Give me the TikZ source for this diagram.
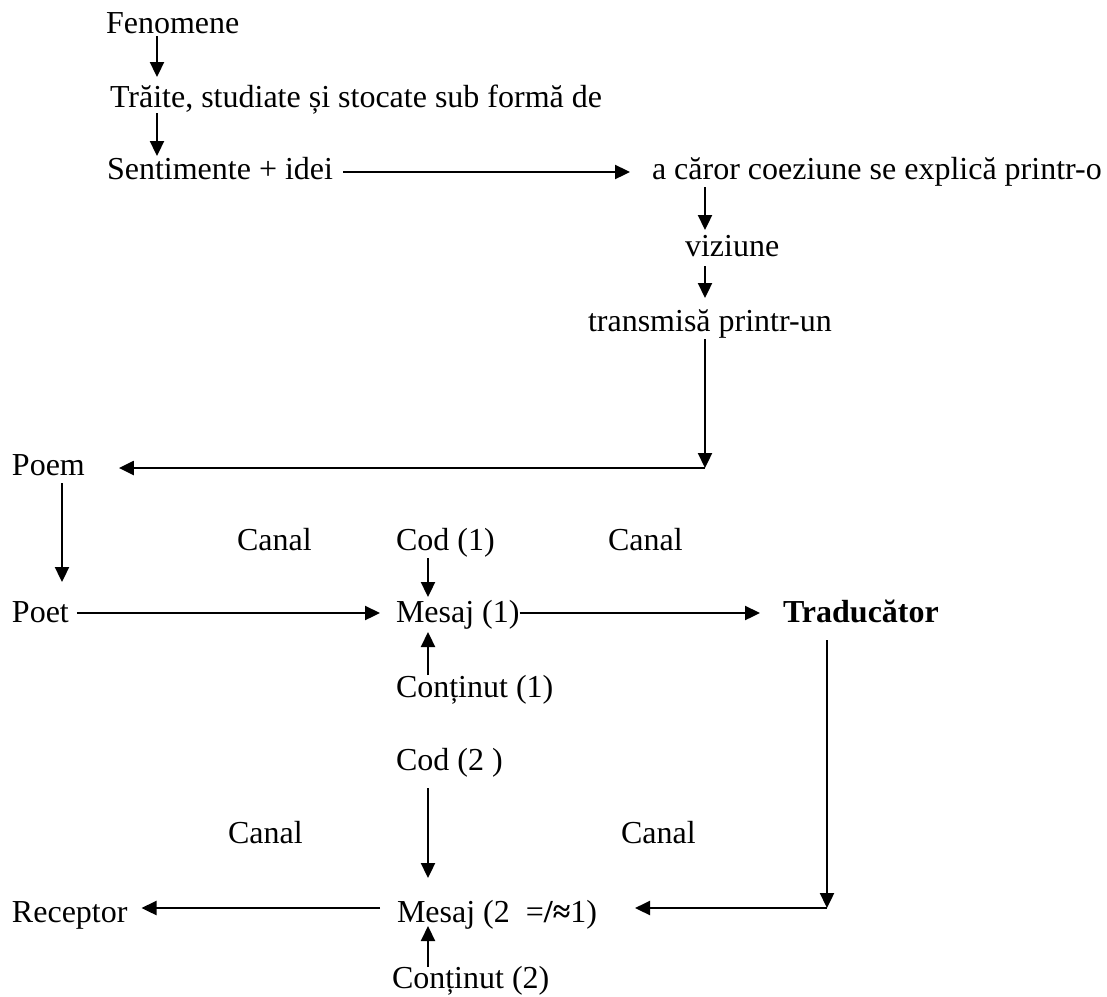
\documentclass[tikz,border=0pt]{standalone}
\usepackage{fontspec}
\setmainfont{Liberation Serif}
\usetikzlibrary{arrows.meta}
\tikzset{
  lbl/.style={anchor=base west, inner sep=0pt, outer sep=0pt, font=\fontsize{32}{38}\selectfont},
  arr/.style={line width=2.3pt, -{Triangle[length=15pt,width=14pt]}}
}
\begin{document}
\begin{tikzpicture}[x=1pt,y=-1pt]
\useasboundingbox (0,0) rectangle (1107,996);
% text nodes
\node[lbl] (fen) at (106,33) {Fenomene};
\node[lbl] (trai) at (110,107) {Trăite, studiate și stocate sub formă de};
\node[lbl] (sent) at (107,179) {Sentimente + idei};
\node[lbl] (acaror) at (652,179) {a căror coeziune se explică printr-o};
\node[lbl] (viz) at (685,256) {viziune};
\node[lbl] (trans) at (588,331) {transmisă printr-un};
\node[lbl] (poem) at (12,475) {Poem};
\node[lbl] (canal1) at (237,550) {Canal};
\node[lbl] (cod1) at (396,550) {Cod (1)};
\node[lbl] (canal2) at (608,550) {Canal};
\node[lbl] (poet) at (12,622) {Poet};
\node[lbl] (mesaj1) at (396,622) {Mesaj (1)};
\node[lbl,font=\fontsize{32}{38}\selectfont\bfseries] (trad) at (783,622) {Traducător};
\node[lbl] (cont1) at (396,697) {Conținut (1)};
\node[lbl] (cod2) at (396,770) {Cod (2 )};
\node[lbl] (canal3) at (228,843) {Canal};
\node[lbl] (canal4) at (621,843) {Canal};
\node[lbl] (recep) at (12,922) {Receptor};
\node[lbl] (mesaj2) at (397,922) {Mesaj (2\ \ =\textbf{/≈}1)};
\node[lbl] (cont2) at (392,988) {Conținut (2)};
% helper columns and corners
\coordinate (xa) at (157,0);
\coordinate (xb) at (705,0);
\coordinate (xp) at (62,0);
\coordinate (xm) at (428,0);
\coordinate (xt) at (827,0);
\coordinate (c1) at (705,468);
\coordinate (c2) at (827,908);
% connectors
\draw[arr] ([yshift=-3pt]fen.base -| xa) -- ([yshift=30pt]trai.base -| xa);
\draw[arr] ([yshift=-6pt]trai.base -| xa) -- ([yshift=23pt]sent.base -| xa);
\draw[arr] ([xshift=10pt,yshift=7pt]sent.base east) -- ([xshift=-22pt,yshift=7pt]acaror.base west);
\draw[arr] ([yshift=-8pt]acaror.base -| xb) -- ([yshift=26pt]viz.base -| xb);
\draw[arr] ([yshift=-10pt]viz.base -| xb) -- ([yshift=33pt]trans.base -| xb);
\draw[arr] ([yshift=-8pt]trans.base -| xb) -- (c1);
\draw[arr] (c1) -- ([xshift=34pt]poem.base east |- c1);
\draw[arr] ([yshift=-8pt]poem.base -| xp) -- ([yshift=40pt]poet.base -| xp);
\draw[arr] ([xshift=8pt,yshift=9pt]poet.base east) -- ([xshift=-16pt,yshift=9pt]mesaj1.base west);
\draw[arr] ([yshift=-8pt]cod1.base -| xm) -- ([yshift=25pt]mesaj1.base -| xm);
\draw[arr] ([yshift=22pt]cont1.base -| xm) -- ([yshift=-10pt]mesaj1.base -| xm);
\draw[arr] ([yshift=9pt]mesaj1.base east) -- ([xshift=-23pt,yshift=9pt]trad.base west);
\draw[arr] ([yshift=-18pt]trad.base -| xt) -- (c2);
\draw[arr] (c2) -- ([xshift=38pt]mesaj2.base east |- c2);
\draw[arr] ([xshift=-17pt]mesaj2.base west |- c2) -- ([xshift=14pt]recep.base east |- c2);
\draw[arr] ([yshift=-18pt]cod2.base -| xm) -- ([yshift=44pt]mesaj2.base -| xm);
\draw[arr] ([yshift=21pt]cont2.base -| xm) -- ([yshift=-4pt]mesaj2.base -| xm);
\end{tikzpicture}
\end{document}
